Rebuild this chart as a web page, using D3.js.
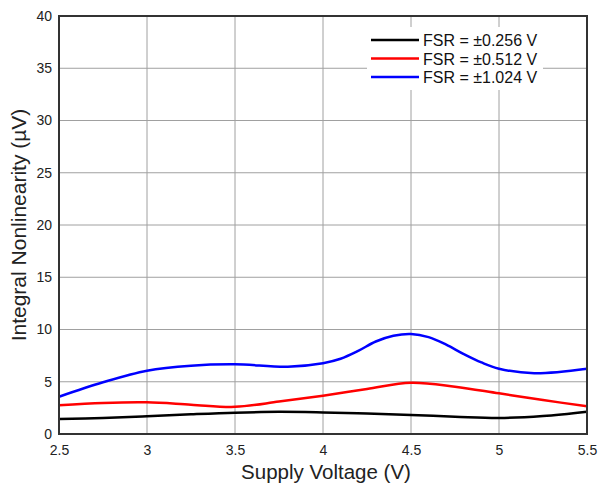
<!DOCTYPE html>
<html><head><meta charset="utf-8">
<script src="https://cdn.jsdelivr.net/npm/d3@7/dist/d3.min.js"></script>
<style>body{margin:0;background:#fff}</style>
</head><body>
<svg id="c" width="600" height="485"></svg>
<script>
const voltage = [2.5,2.75,3.0,3.25,3.5,3.75,4.0,4.25,4.5,4.75,5.0,5.25,5.5];
const fsr256 = [1.44,1.53,1.69,1.88,2.04,2.12,2.06,1.95,1.82,1.66,1.53,1.72,2.14];
const fsr512 = [2.74,2.97,3.03,2.81,2.6,3.1,3.67,4.3,4.91,4.53,3.89,3.25,2.65];
const voltage1024 = [2.5,2.75,3.0,3.25,3.5,3.8,4.0,4.1,4.2,4.3,4.4,4.5,4.6,4.7,4.8,4.9,5.0,5.2,5.5];
const fsr1024 = [3.57,4.95,6.06,6.54,6.67,6.44,6.78,7.2,7.95,8.85,9.4,9.57,9.27,8.55,7.65,6.85,6.25,5.82,6.25];
const seriesNames = ["FSR = \u00b10.256 V","FSR = \u00b10.512 V","FSR = \u00b11.024 V"];
const seriesColors = ["#000000","#ff0000","#0000ff"];
const xTicks = [2.5,3,3.5,4,4.5,5,5.5];
const yTicks = [0,5,10,15,20,25,30,35,40];

const svg = d3.select("#c");
const L=59,R=587,T=16,B=434;
const x = d3.scaleLinear().domain([2.5,5.5]).range([L,R]);
const y = d3.scaleLinear().domain([0,40]).range([B,T]);

svg.append("g").selectAll("line").data(xTicks.slice(1,-1)).join("line")
  .attr("x1",d=>x(d)).attr("x2",d=>x(d)).attr("y1",T).attr("y2",B)
  .attr("stroke","#a0a0a0").attr("stroke-width",1);
svg.append("g").selectAll("line").data(yTicks.slice(1,-1)).join("line")
  .attr("y1",d=>y(d)).attr("y2",d=>y(d)).attr("x1",L).attr("x2",R)
  .attr("stroke","#a0a0a0").attr("stroke-width",1);

const xAxis = d3.axisBottom(x).tickValues(xTicks).tickSize(0).tickPadding(11).tickFormat(d=>String(d));
const gx = svg.append("g").attr("transform",`translate(0,${B})`).call(xAxis);
gx.select(".domain").remove();
gx.selectAll("text").attr("font-family","Liberation Sans, Arial").attr("font-size",14).attr("fill","#222");
const yAxis = d3.axisLeft(y).tickValues(yTicks).tickSize(0).tickPadding(7).tickFormat(d=>String(d));
const gy = svg.append("g").attr("transform",`translate(${L},0)`).call(yAxis);
gy.select(".domain").remove();
gy.selectAll("text").attr("font-family","Liberation Sans, Arial").attr("font-size",14).attr("fill","#222");

svg.append("rect").attr("x",367).attr("y",27).attr("width",176).attr("height",63).attr("fill","#fff");

const mk = xs => d3.line().x((d,i)=>x(xs[i])).y(d=>y(d)).curve(d3.curveCatmullRom.alpha(0.5));
[[voltage,fsr256],[voltage,fsr512],[voltage1024,fsr1024]].forEach(([xs,s],k)=>{
  svg.append("path").datum(s).attr("d",mk(xs)).attr("fill","none")
    .attr("stroke",seriesColors[k]).attr("stroke-width",2.5);
});

svg.append("rect").attr("x",L).attr("y",T).attr("width",R-L).attr("height",B-T)
  .attr("fill","none").attr("stroke","#333").attr("stroke-width",2);

seriesNames.forEach((n,k)=>{
  const yy = 40 + k*18.5;
  svg.append("line").attr("x1",371).attr("x2",419).attr("y1",yy).attr("y2",yy)
    .attr("stroke",seriesColors[k]).attr("stroke-width",2.5);
  svg.append("text").attr("x",423).attr("y",yy+6).text(n)
    .attr("font-family","Liberation Sans, Arial").attr("font-size",16).attr("fill","#111");
});

svg.append("text").attr("x",(L+R)/2+3).attr("y",479).attr("text-anchor","middle")
  .attr("font-family","Liberation Sans, Arial").attr("font-size",20.5).attr("fill","#222").text("Supply Voltage (V)");
svg.append("text").attr("transform",`translate(26,${(T+B)/2}) rotate(-90)`).attr("text-anchor","middle")
  .attr("font-family","Liberation Sans, Arial").attr("font-size",21).attr("fill","#222").text("Integral Nonlinearity (\u00b5V)");
</script>
</body></html>
